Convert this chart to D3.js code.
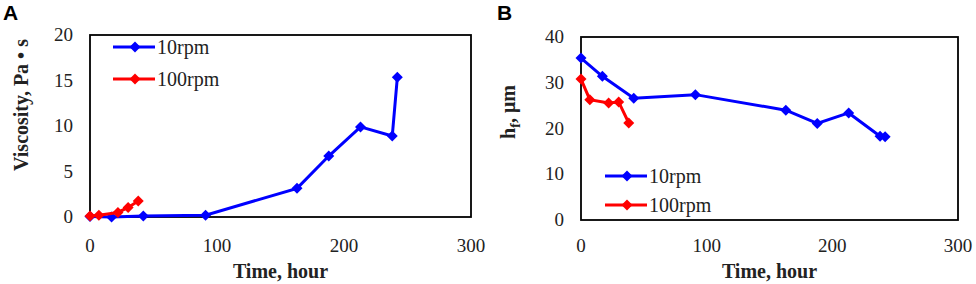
<!DOCTYPE html>
<html>
<head>
<meta charset="utf-8">
<script src="https://cdn.jsdelivr.net/npm/d3@7"></script>
<style>
  html, body { margin: 0; padding: 0; background: #fff; }
  svg { display: block; }
  text { font-family: "Liberation Serif", "Times New Roman", serif; fill: #222; }
</style>
</head>
<body>
<svg id="chart" width="976" height="284"></svg>
<script>
// time values (hours)
const time10 = [0, 17, 42, 91, 163, 188, 213, 238, 242];
const time100 = [0, 7, 22, 30, 38];

// panel A: viscosity, Pa·s
const visc10 = [0.05, 0.0, 0.1, 0.2, 3.15, 6.7, 9.9, 8.9, 15.35];
const visc100 = [0.1, 0.2, 0.5, 1.05, 1.75];

// panel B: film thickness, µm
const hf10 = [35.4, 31.4, 26.6, 27.4, 24.0, 21.1, 23.4, 18.3, 18.2];
const hf100 = [30.8, 26.3, 25.6, 25.8, 21.2];

const xTicks = [0, 100, 200, 300];
const yTicksA = [0, 5, 10, 15, 20];
const yTicksB = [0, 10, 20, 30, 40];
const seriesNames = ["10rpm", "100rpm"];
const colors = ["#0000ff", "#ff0000"];

const svg = d3.select("#chart");

function diamond(s) {
    return `M0,${-s}L${s},0L0,${s}L${-s},0Z`;
}

function drawPanel(opt) {
    const g = svg.append("g");
    const x = d3.scaleLinear().domain([0, 300]).range([opt.left, opt.right]);
    const y = d3.scaleLinear().domain([0, opt.yMax]).range([opt.bottom, opt.top]);

    // panel letter
    g.append("text")
        .attr("x", opt.letterX).attr("y", 20)
        .style("font-family", "'Liberation Sans', Arial, sans-serif")
        .style("font-weight", "bold")
        .style("font-size", "21px")
        .style("fill", "#000")
        .text(opt.letter);

    // tick labels
    g.selectAll(".xt").data(xTicks).enter().append("text")
        .attr("x", d => x(d)).attr("y", 252)
        .attr("text-anchor", "middle")
        .style("font-size", "19px")
        .text(d => d);

    g.selectAll(".yt").data(opt.yTicks).enter().append("text")
        .attr("x", opt.left - 17).attr("y", d => y(d) + 6)
        .attr("text-anchor", "end")
        .style("font-size", "19px")
        .text(d => d);

    // x title
    g.append("text")
        .attr("x", (opt.left + opt.right) / 2 - 0)
        .attr("y", 278)
        .attr("text-anchor", "middle")
        .style("font-size", "20px")
        .style("font-weight", "bold")
        .text("Time, hour");

    // y title
    const yt = g.append("text")
        .attr("transform", `translate(${opt.yTitleX},${opt.yTitleY}) rotate(-90)`)
        .attr("text-anchor", "middle")
        .style("font-size", "20px")
        .style("font-weight", "bold");
    opt.yTitle(yt);

    // frame
    g.append("rect")
        .attr("x", opt.left).attr("y", opt.top)
        .attr("width", opt.right - opt.left)
        .attr("height", opt.bottom - opt.top)
        .attr("fill", "none")
        .attr("stroke", "#000")
        .attr("stroke-width", 1.8);

    const line = d3.line().x(d => x(d[0])).y(d => y(d[1]));

    opt.series.forEach((s, i) => {
        const pts = s.t.map((t, j) => [t, s.v[j]]);
        g.append("path")
            .datum(pts)
            .attr("d", line)
            .attr("fill", "none")
            .attr("stroke", colors[i])
            .attr("stroke-width", 3);
        g.selectAll(".m" + i).data(pts).enter().append("path")
            .attr("transform", d => `translate(${x(d[0])},${y(d[1])})`)
            .attr("d", diamond(5.5))
            .attr("fill", colors[i]);
    });

    // legend
    seriesNames.forEach((name, i) => {
        const ly = opt.legY + i * opt.legGap;
        g.append("line")
            .attr("x1", opt.legX).attr("x2", opt.legX + 42)
            .attr("y1", ly).attr("y2", ly)
            .attr("stroke", colors[i]).attr("stroke-width", 3);
        g.append("path")
            .attr("transform", `translate(${opt.legX + 22},${ly})`)
            .attr("d", diamond(5.5))
            .attr("fill", colors[i]);
        g.append("text")
            .attr("x", opt.legX + 44).attr("y", ly + 7)
            .style("font-size", "20px")
            .text(name);
    });
}

drawPanel({
    letter: "A", letterX: 3,
    left: 90, right: 471, top: 35, bottom: 217, yMax: 20,
    yTicks: yTicksA,
    yTitleX: 28, yTitleY: 105,
    yTitle: t => t.text("Viscosity, Pa \u2022 s"),
    series: [{ t: time10, v: visc10 }, { t: time100, v: visc100 }],
    legX: 113, legY: 47, legGap: 32
});

drawPanel({
    letter: "B", letterX: 497,
    left: 581, right: 958, top: 37, bottom: 220, yMax: 40,
    yTicks: yTicksB,
    yTitleX: 515, yTitleY: 112,
    yTitle: t => {
        t.append("tspan").text("h");
        t.append("tspan").attr("dy", 5).style("font-size", "14px").text("f");
        t.append("tspan").attr("dy", -5).text(", \u03bcm");
    },
    series: [{ t: time10, v: hf10 }, { t: time100, v: hf100 }],
    legX: 605, legY: 176, legGap: 29
});
</script>
</body>
</html>
